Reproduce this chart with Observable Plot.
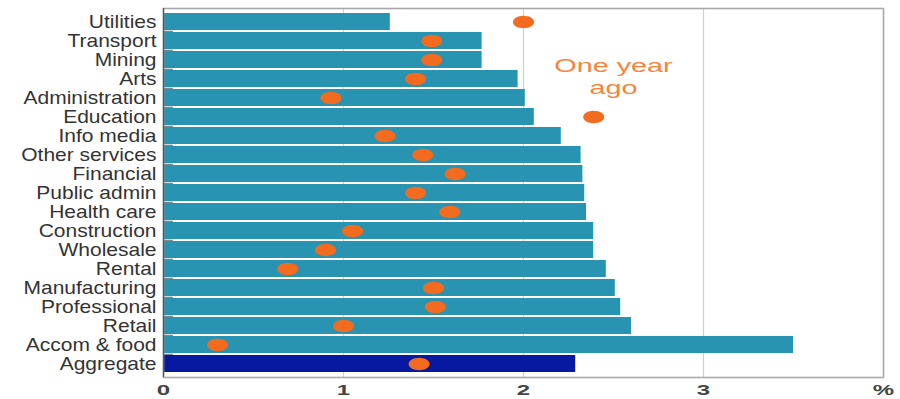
<!DOCTYPE html>
<html>
<head>
<meta charset="utf-8">
<script src="https://cdn.jsdelivr.net/npm/d3@7"></script>
<script src="https://cdn.jsdelivr.net/npm/@observablehq/plot@0.6"></script>
<style>
  html, body { margin: 0; padding: 0; background: #fff; }
  #chart svg { display: block; }
</style>
</head>
<body>
<div id="chart"></div>
<script>
// ---- Data ----
const industries = ["Utilities", "Transport", "Mining", "Arts", "Administration", "Education",
  "Info media", "Other services", "Financial", "Public admin", "Health care", "Construction",
  "Wholesale", "Rental", "Manufacturing", "Professional", "Retail", "Accom & food", "Aggregate"];
const current = [1.26, 1.77, 1.77, 1.97, 2.01, 2.06, 2.21, 2.32, 2.33, 2.34, 2.35, 2.39,
  2.39, 2.46, 2.51, 2.54, 2.60, 3.50, 2.29];
const yearAgo = [2.00, 1.49, 1.49, 1.40, 0.93, 2.39, 1.23, 1.44, 1.62, 1.40, 1.59, 1.05,
  0.90, 0.69, 1.50, 1.51, 1.00, 0.30, 1.42];
const xTicks = [0, 1, 2, 3, 4];
const xTickLabels = ["0", "1", "2", "3", "%"];
const annotationText = ["One year\nago"];
const annotationX = [2.5];
const annotationY = ["Arts"];
const aggregateName = "Aggregate";

// ---- Build table ----
const rows = industries.map((name, i) => ({name, current: current[i], yearAgo: yearAgo[i]}));
const notes = annotationText.map((t, i) => ({text: t, x: annotationX[i], y: annotationY[i]}));

// Ellipse symbol for the "one year ago" dots
const ellipse = {
  draw(ctx, size) {
    const r = Math.sqrt(size / Math.PI);
    const rx = r * 1.7, ry = r;
    const k = 0.5523;
    ctx.moveTo(rx, 0);
    ctx.bezierCurveTo(rx, ry * k, rx * k, ry, 0, ry);
    ctx.bezierCurveTo(-rx * k, ry, -rx, ry * k, -rx, 0);
    ctx.bezierCurveTo(-rx, -ry * k, -rx * k, -ry, 0, -ry);
    ctx.bezierCurveTo(rx * k, -ry, rx, -ry * k, rx, 0);
    ctx.closePath();
  }
};

const W = 900, H = 399;
const mTop = 8, mBottom = 22, mLeft = 163, mRight = 17;
const pIn = 0.1, pOut = 0.05;
const step = (H - mTop - mBottom) / (industries.length - pIn + 2 * pOut);

const chart = Plot.plot({
  width: W,
  height: H,
  marginTop: mTop,
  marginBottom: mBottom,
  marginLeft: mLeft,
  marginRight: mRight,
  style: {fontFamily: "'Liberation Sans', Arial, sans-serif", background: "#fff", overflow: "visible"},
  x: {domain: [0, 4]},
  y: {domain: industries, paddingInner: pIn, paddingOuter: pOut},
  marks: [
    Plot.ruleX([1, 2, 3], {stroke: "#cfcfcf", strokeWidth: 1.2}),
    Plot.barX(rows.filter(d => d.name !== aggregateName), {x: "current", y: "name", fill: "#2993b2"}),
    Plot.barX(rows.filter(d => d.name === aggregateName), {x: "current", y: "name", fill: "#0619a0"}),
    Plot.ruleY(industries.slice(1), {x1: 0, x2: 0.055, stroke: "#777", strokeWidth: 1.2, dy: -step / 2}),
    Plot.frame({stroke: "#a8a8a8", strokeWidth: 1.6}),
    Plot.ruleX([0], {stroke: "#555", strokeWidth: 1.3}),
    Plot.dot(rows, {x: "yearAgo", y: "name", r: 6.2, symbol: ellipse, fill: "#f36b1f", stroke: "none"}),
    Plot.text(notes, {x: "x", y: "y", text: "text", fill: "#f6843d", fontSize: 18, lineHeight: 1.2,
      textAnchor: "middle", dy: -3}),
    Plot.axisY({tickSize: 0, tickPadding: 7, fontSize: 17.5, fill: "#333", label: null}),
    Plot.axisX({ticks: xTicks, tickFormat: (d) => xTickLabels[xTicks.indexOf(d)], tickSize: 0,
      tickPadding: 7, fontSize: 15, fontWeight: "bold", fill: "#444", label: null})
  ]
});

document.getElementById("chart").appendChild(chart);

// Horizontal stretch to match the reference's wide lettering
function stretch(selector, s) {
  d3.select(chart).selectAll(selector).each(function () {
    const t = this.getAttribute("transform");
    if (t) this.setAttribute("transform", t + ` scale(${s},1)`);
    else {
      const x = +this.getAttribute("x") || 0, y = +this.getAttribute("y") || 0;
      this.removeAttribute("x"); this.removeAttribute("y");
      this.setAttribute("transform", `translate(${x},${y}) scale(${s},1)`);
    }
  });
}
stretch("g[aria-label='y-axis tick label'] text", 1.2);
stretch("g[aria-label='x-axis tick label'] text", 1.6);
stretch("g[aria-label='text'] text", 1.6);
</script>
</body>
</html>
